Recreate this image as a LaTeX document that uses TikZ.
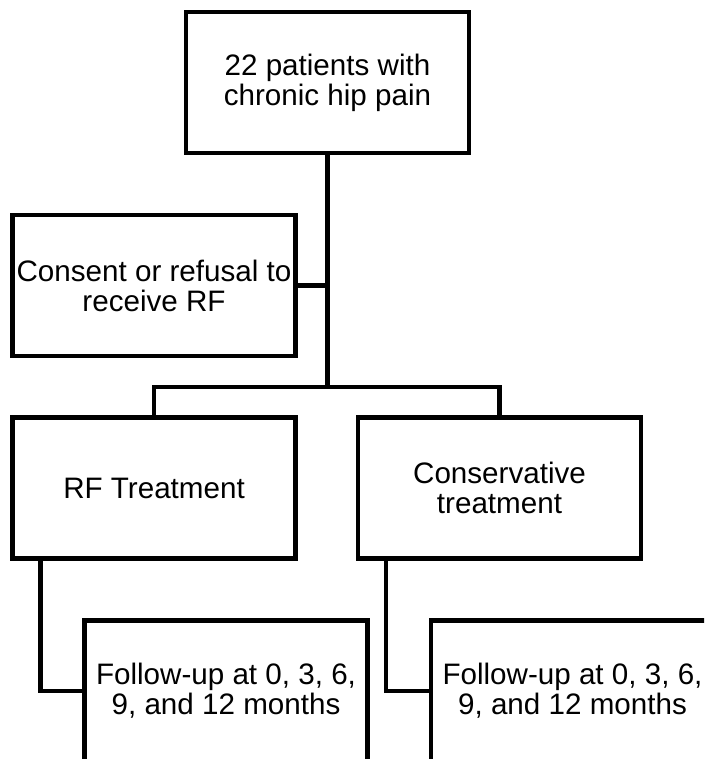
\documentclass[tikz,border=0pt]{standalone}
\usepackage{fontspec}
\setmainfont{Liberation Sans}

\tikzset{
  box/.style={draw, line width=4.5pt, minimum width=283pt, minimum height=141pt,
    align=center, inner sep=0pt, font=\fontsize{29.6}{30}\selectfont},
  link/.style={line width=4.5pt}
}

\begin{document}
\begin{tikzpicture}[x=1pt,y=-1pt]
            \useasboundingbox (0,0) rectangle (704,759);
            \clip (0,0) rectangle (704,759);
            \node[box] (patients) at (327.5,82.5) {22 patients with\\chronic hip pain};
            \node[box] (consent) at (154,285.5) {Consent or refusal to\\receive RF};
            \node[box] (rf) at (154,488) {RF Treatment};
            \node[box] (cons) at (499.5,488) {Conservative\\treatment};
            \node[box] (followrf) at (226,691) {Follow-up at 0, 3, 6,\\9, and 12 months};
            \node[box] (followcons) at (572.5,691) {Follow-up at 0, 3, 6,\\9, and 12 months};
            \coordinate (split) at (327.5,387);
            \draw[link] (patients.south) -- (split);
            \draw[link] (consent.east) -- (consent.east -| split);
            \draw[link] (rf.north) |- (split) -| (cons.north);
            \draw[link] ([xshift=30pt]rf.south west) |- (followrf.west);
            \draw[link] ([xshift=30pt]cons.south west) |- (followcons.west);
        \end{tikzpicture}
\end{document}
